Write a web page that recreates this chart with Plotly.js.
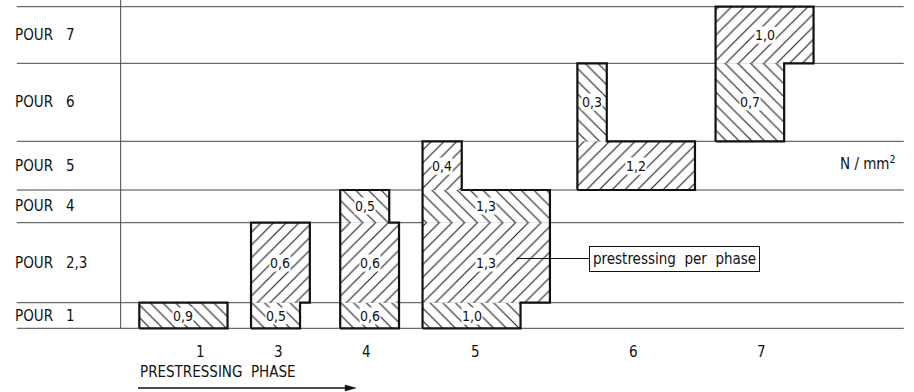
<!DOCTYPE html>
<html>
<head>
<meta charset="utf-8">
<script src="https://cdn.plot.ly/plotly-3.0.1.min.js"></script>
<style>html,body{margin:0;padding:0;background:#fff;}#chart{width:914px;height:392px;}</style>
</head>
<body>
<div id="chart"></div>
<script>
// ---- data ----
const pours = ['POUR 1', 'POUR 2,3', 'POUR 4', 'POUR 5', 'POUR 6', 'POUR 7'];
const pourHeights = [2.56, 8.0, 3.27, 4.87, 7.8, 5.66];
const phases = ['1', '3', '4', '5', '6', '7'];
const phaseStart = [0.19, 1.33, 2.24, 3.08, 4.66, 6.07];
const phaseLabelX = [0.81, 1.61, 2.51, 3.62, 5.23, 6.54];
const segPhase = [0, 1, 1, 2, 2, 2, 3, 3, 3, 3, 4, 4, 5, 5];
const segPour  = [0, 0, 1, 0, 1, 2, 0, 1, 2, 3, 3, 4, 4, 5];
const segValue = [0.9, 0.5, 0.6, 0.6, 0.6, 0.5, 1.0, 1.3, 1.3, 0.4, 1.2, 0.3, 0.7, 1.0];
const unitLabel = 'N / mm<sup>2</sup>';
const legendLabel = 'prestressing\u00a0\u00a0per\u00a0\u00a0phase';
const axisLabel = 'PRESTRESSING\u00a0\u00a0PHASE';

// ---- layout helpers ----
const FONT = '"Liberation Sans Narrow", "DejaVu Sans Condensed", "Arial Narrow", "Liberation Sans", sans-serif';
const INK = '#111';
const lo = [], hi = [];
let acc = 0;
pourHeights.forEach((h) => { lo.push(acc); acc += h; hi.push(acc); });

const fmt = v => v.toFixed(1).replace('.', ',');

// bars
const barY = [], barW = [], barBase = [], barX = [], barShape = [];
segValue.forEach((v, i) => {
  const r = segPour[i];
  barY.push((lo[r] + hi[r]) / 2);
  barW.push(hi[r] - lo[r]);
  barBase.push(phaseStart[segPhase[i]]);
  barX.push(v);
  barShape.push(r % 2 === 0 ? '\\' : '/');
});

const bars = {
  type: 'bar', orientation: 'h',
  y: barY, x: barX, base: barBase, width: barW,
  marker: {
    color: 'white',
    line: {width: 0},
    pattern: {shape: barShape, fgcolor: '#222', bgcolor: 'white', size: 9, solidity: 0.13}
  },
  hoverinfo: 'skip', showlegend: false
};

// outline of each phase block
const ox = [], oy = [];
phases.forEach((ph, p) => {
  const idx = segPhase.map((q, i) => q === p ? i : -1).filter(i => i >= 0)
    .sort((a, b) => segPour[a] - segPour[b]);
  const s = phaseStart[p];
  const first = idx[0], last = idx[idx.length - 1];
  ox.push(s); oy.push(lo[segPour[first]]);
  ox.push(s); oy.push(hi[segPour[last]]);
  for (let k = idx.length - 1; k >= 0; k--) {
    const i = idx[k], r = segPour[i];
    ox.push(s + segValue[i]); oy.push(hi[r]);
    ox.push(s + segValue[i]); oy.push(lo[r]);
  }
  ox.push(s); oy.push(lo[segPour[first]]);
  ox.push(null); oy.push(null);
});
const outline = {
  type: 'scatter', mode: 'lines', x: ox, y: oy,
  line: {color: INK, width: 2.2}, hoverinfo: 'skip', showlegend: false
};

// shapes: horizontal row lines + vertical axis + phase arrow
const shapes = [];
const bounds = [0].concat(hi);
bounds.forEach(b => shapes.push({
  type: 'line', layer: 'below', xref: 'x', yref: 'y',
  x0: -1.06, x1: 7.99, y0: b, y1: b, line: {color: '#444', width: 1}
}));
shapes.push({type: 'line', layer: 'below', xref: 'x', yref: 'y',
  x0: 0, x1: 0, y0: 0, y1: 32.83, line: {color: '#444', width: 1}});
shapes.push({type: 'line', xref: 'x', yref: 'y',
  x0: 0.177, x1: 2.32, y0: -5.97, y1: -5.97, line: {color: INK, width: 1.3}});
shapes.push({type: 'path', xref: 'x', yref: 'y',
  path: 'M 2.40 -5.97 L 2.29 -5.67 L 2.29 -6.27 Z',
  fillcolor: INK, line: {color: INK, width: 0.5}});

// annotations
const ann = [];
segValue.forEach((v, i) => {
  ann.push({x: barBase[i] + v / 2, y: barY[i], text: fmt(v), showarrow: false,
    bgcolor: 'white', borderpad: 0, font: {family: FONT, size: 14, color: INK}});
});
pours.forEach((name, r) => {
  const parts = name.split(' ');
  const yc = (lo[r] + hi[r]) / 2;
  ann.push({x: -1.098, y: yc, xanchor: 'left', text: parts[0], showarrow: false,
    font: {family: FONT, size: 15, color: INK}});
  ann.push({x: -0.578, y: yc, xanchor: 'left', text: parts[1], showarrow: false,
    font: {family: FONT, size: 15, color: INK}});
});
phases.forEach((ph, p) => {
  ann.push({x: phaseLabelX[p], y: -2.37, text: ph, showarrow: false,
    font: {family: FONT, size: 15, color: INK}});
});
ann.push({x: 7.63, y: 16.53, text: unitLabel, showarrow: false,
  font: {family: FONT, size: 15, color: INK}});
ann.push({x: 4.05, y: 6.98, text: legendLabel, showarrow: true,
  ax: 157, ay: 0, arrowhead: 6, arrowsize: 0.5, arrowwidth: 1, arrowcolor: INK,
  standoff: 0, bordercolor: INK, borderwidth: 1, borderpad: 3, bgcolor: 'white',
  font: {family: FONT, size: 15, color: INK}});
ann.push({x: 0.177, y: -4.35, xanchor: 'left', text: axisLabel, showarrow: false,
  font: {family: FONT, size: 15, color: INK}});

const layout = {
  width: 914, height: 392,
  margin: {l: 0, r: 0, t: 0, b: 0},
  paper_bgcolor: 'white', plot_bgcolor: 'white',
  barmode: 'overlay', hovermode: false, showlegend: false,
  xaxis: {range: [-1.2316, 8.0949], visible: false, fixedrange: true},
  yaxis: {range: [-6.37, 32.83], visible: false, fixedrange: true},
  shapes: shapes, annotations: ann
};

Plotly.newPlot('chart', [bars, outline], layout, {displayModeBar: false, staticPlot: true});
</script>
</body>
</html>
